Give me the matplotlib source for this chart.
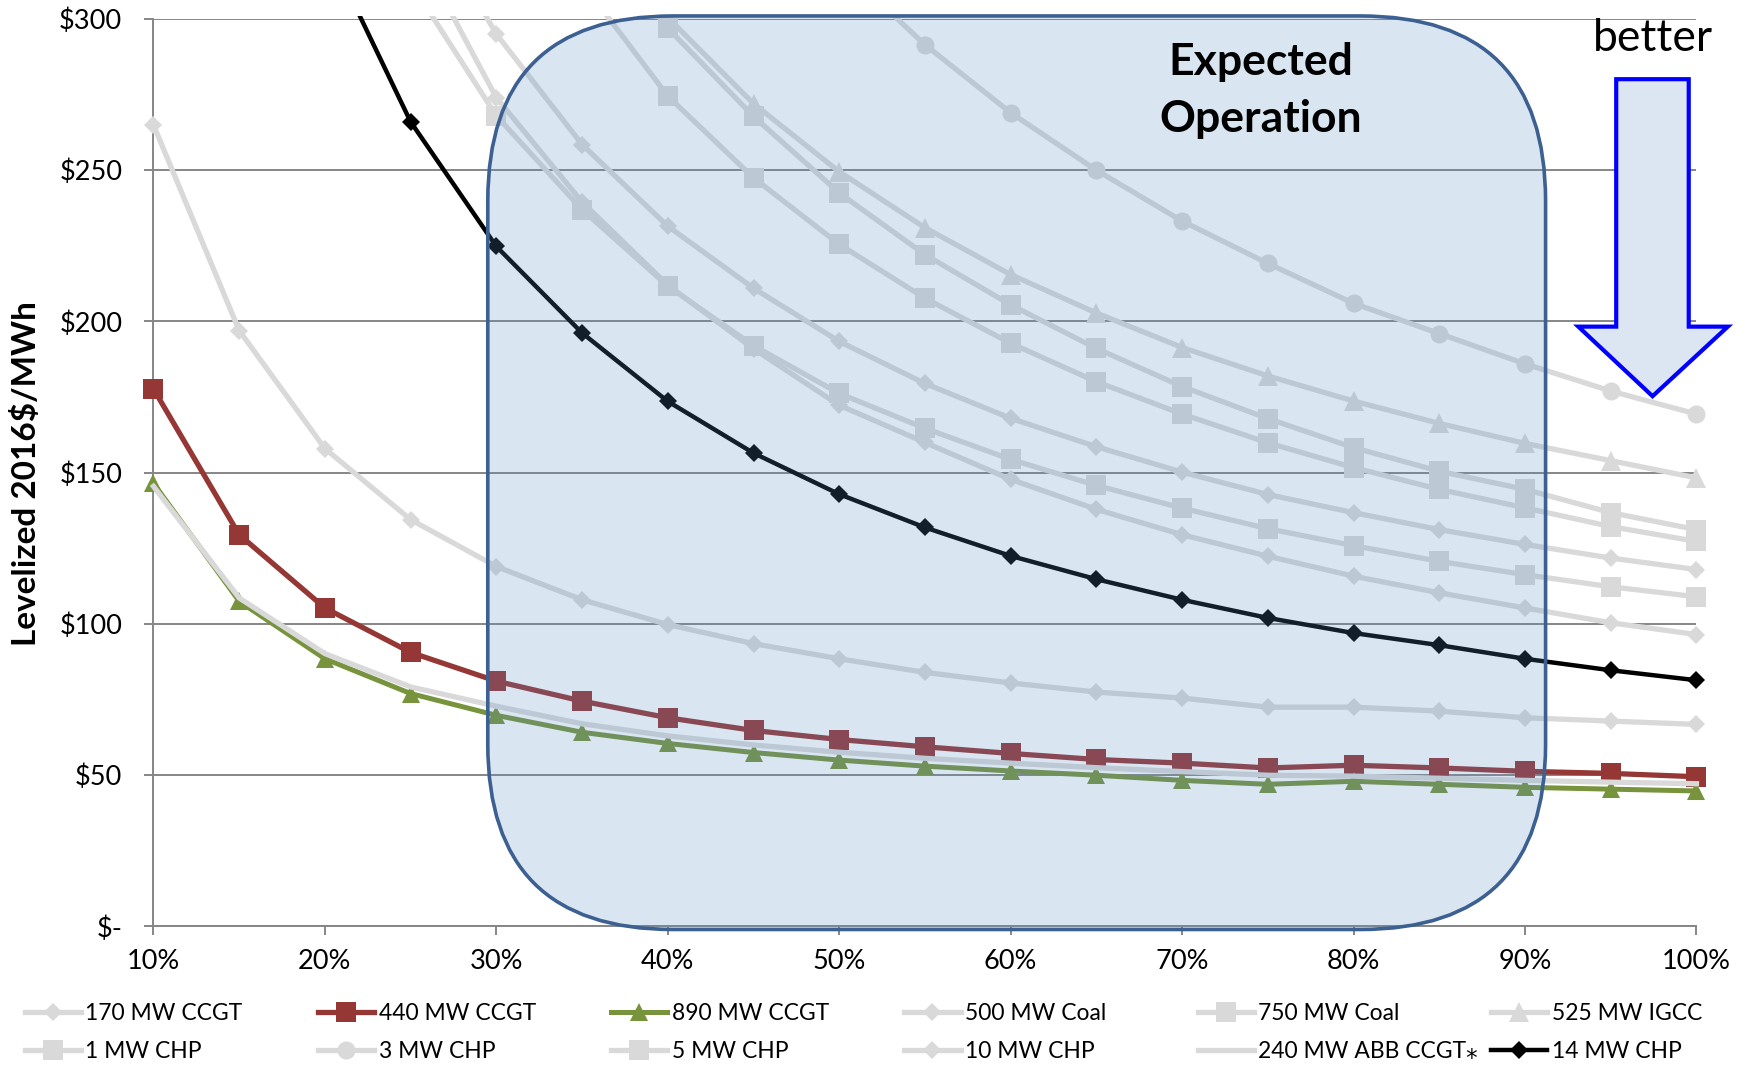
import matplotlib.pyplot as plt
from matplotlib.patches import FancyBboxPatch, Polygon, Rectangle
from matplotlib.transforms import IdentityTransform

plt.rcParams['font.family'] = ['Lato', 'DejaVu Sans']

# capacity factor (%)
capacity = [10, 15, 20, 25, 30, 35, 40, 45, 50, 55, 60, 65, 70, 75, 80, 85, 90, 95, 100]

# levelized cost, 2016$/MWh (values above $300 are estimated, off the chart)
ccgt_170 = [265, 197, 158, 134.5, 119, 108, 99.8, 93.5, 88.5, 84, 80.5, 77.5, 75.5, 72.5, 72.5, 71.2, 69, 67.9, 66.8]
ccgt_440 = [177.7, 129.5, 105.3, 90.6, 81.1, 74.5, 69, 64.8, 61.8, 59.4, 57.2, 55.2, 54, 52.4, 53.3, 52.4, 51.3, 50.6, 49.5]
ccgt_890 = [146.5, 107.5, 88.5, 77, 69.8, 64.2, 60.5, 57.5, 55, 53, 51.4, 50, 48.3, 47, 48, 47, 46, 45.4, 44.8]
coal_500 = [790, 533, 405, 327, 274, 239.5, 212, 191, 172.3, 160, 147.8, 137.9, 129.5, 122.4, 115.8, 110.3, 105.3, 100.4, 96.5]
coal_750 = [714, 490, 378, 312, 268, 237, 211.7, 192, 176.2, 164.7, 154.4, 145.8, 138.3, 131.5, 125.9, 120.7, 116.3, 112.3, 109]
igcc_525 = [1060, 722, 553, 452, 384, 336, 300.5, 272, 249.5, 231, 215.5, 202.8, 191.4, 182, 173.7, 166.3, 159.7, 154, 148.3]
chp_1 = [1100, 740, 575, 465, 391, 338, 297, 267.8, 242.5, 222.1, 205.5, 191.1, 178.5, 167.9, 158.3, 150.5, 144.5, 136.8, 131.2]
chp_3 = [1510, 1014, 765, 616, 517, 446, 393, 351, 318, 291.5, 269, 250, 233.2, 219.2, 206, 196, 186, 177, 169.4]
chp_5 = [1010, 684, 520, 422, 356, 312, 274.5, 247.5, 225.5, 207.7, 192.8, 180.1, 169.4, 159.9, 151.7, 144.5, 138.4, 132.2, 127.3]
chp_10 = [796, 545, 420, 344, 295, 258.5, 231.5, 211, 193.4, 179.5, 168, 158.6, 150.2, 142.8, 136.8, 131.2, 126.3, 121.8, 118]
abb_240 = [145.5, 108.6, 90.2, 79.2, 72.8, 67, 63, 60, 57.6, 55.6, 54, 52.5, 51.2, 50, 49.7, 49, 48.3, 47.7, 47.2]
chp_14 = [530, 400, 325, 266, 224.8, 196.2, 173.6, 156.5, 142.9, 131.9, 122.5, 114.8, 108, 102, 97, 93, 88.5, 84.7, 81.4]

x_ticks = [10, 20, 30, 40, 50, 60, 70, 80, 90, 100]
x_labels = ["10%", "20%", "30%", "40%", "50%", "60%", "70%", "80%", "90%", "100%"]
y_ticks = [0, 50, 100, 150, 200, 250, 300]
y_labels = ["$-", "$50", "$100", "$150", "$200", "$250", "$300"]

gray = "#d9d9d9"
series = [
    ("170 MW CCGT", ccgt_170, gray, "D", 9.5, 3.8),
    ("440 MW CCGT", ccgt_440, "#953735", "s", 14, 3.8),
    ("890 MW CCGT", ccgt_890, "#77933c", "^", 12.5, 3.6),
    ("500 MW Coal", coal_500, gray, "D", 9.5, 3.8),
    ("750 MW Coal", coal_750, gray, "s", 14, 3.8),
    ("525 MW IGCC", igcc_525, gray, "^", 14, 3.8),
    ("1 MW CHP", chp_1, gray, "s", 14, 3.8),
    ("3 MW CHP", chp_3, gray, "o", 13, 3.8),
    ("5 MW CHP", chp_5, gray, "s", 14, 3.8),
    ("10 MW CHP", chp_10, gray, "D", 9.5, 3.8),
    ("240 MW ABB CCGT\u204e", abb_240, gray, None, 0, 3.8),
    ("14 MW CHP", chp_14, "#000000", "D", 9.5, 3.2),
]

fig = plt.figure(figsize=(17.5, 10.67), dpi=100)
ax = fig.add_axes([0.0877, 0.1317, 0.8817, 0.8505])
ax.set_xlim(10, 100)
ax.set_ylim(0, 300)

clip = Rectangle((-0.03, -0.05), 1.06, 1.053, transform=ax.transAxes)

handles = []
for i, (name, vals, col, mk, ms, lw) in enumerate(series):
    line, = ax.plot(capacity, vals, color=col, lw=lw, marker=mk, ms=ms,
                    mfc=col, mec=col, mew=0, label=name, zorder=3 + i * 0.1)
    line.set_clip_path(clip)
    handles.append(line)

# grid / axes styling
ax.set_axisbelow(True)
ax.grid(axis="y", color="#868686", lw=1.4)
for s in ["top", "right"]:
    ax.spines[s].set_visible(False)
for s in ["left", "bottom"]:
    ax.spines[s].set_color("#868686")
    ax.spines[s].set_linewidth(1.4)
ax.set_xticks(x_ticks, x_labels)
ax.set_yticks(y_ticks, y_labels)
ax.tick_params(axis="both", colors="#868686", labelcolor="black", labelsize=19.5,
               length=6.5, width=1.4, direction="out")
ax.tick_params(axis="y", pad=16)
ax.tick_params(axis="x", pad=10)

fig.text(0.0146, 0.556, "Levelized 2016$/MWh", rotation=90, ha="center", va="center",
         fontsize=24, fontweight="bold")

# expected operation region (rounded box drawn in pixel space)
box_x0, box_x1 = 29.5, 91.2
box_y0, box_y1 = -1, 301
(px0, py0) = ax.transData.transform((box_x0, box_y0))
(px1, py1) = ax.transData.transform((box_x1, box_y1))
box = FancyBboxPatch((px0, py0), px1 - px0, py1 - py0,
                     boxstyle="round,pad=0,rounding_size=185",
                     transform=IdentityTransform(),
                     facecolor=(90 / 255, 140 / 255, 200 / 255, 0.22),
                     edgecolor="#3b6091", lw=2.6, zorder=10, clip_on=False)
ax.add_patch(box)
ax.text(74.6, 276.4, "Expected\nOperation", ha="center", va="center", fontsize=32,
        fontweight="bold", linespacing=1.5, zorder=11)

# "better" arrow
arrow_pts = [(95.32, 280.1), (99.55, 280.1), (99.55, 198.3), (101.83, 198.3),
             (97.44, 175.3), (93.11, 198.3), (95.32, 198.3)]
ax.add_patch(Polygon(arrow_pts, closed=True, facecolor="#dce6f2", edgecolor="#0000ff",
                     lw=3, zorder=12, clip_on=False, joinstyle="miter"))
ax.text(97.44, 293.5, "better", ha="center", va="center", fontsize=32, zorder=12)

# legend: 2 rows x 6 equal-width columns
col_x = [24.5, 317.8, 611.1, 904.4, 1197.7, 1491]
for j in range(6):
    pair = [handles[j], handles[j + 6]]
    fig.legend(pair, [h.get_label() for h in pair], loc="center left",
               bbox_to_anchor=(col_x[j] / 1750, 0.0327), frameon=False,
               borderpad=0, borderaxespad=0, handlelength=2.45, handletextpad=0.2,
               labelspacing=0.74, fontsize=16.5, numpoints=1)

fig.savefig("out.png", dpi=100)
